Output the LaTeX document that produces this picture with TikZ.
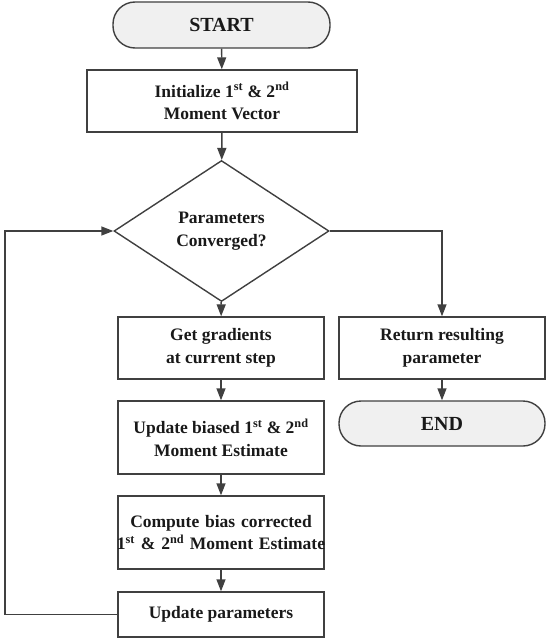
\documentclass[tikz,border=0pt]{standalone}
\usepackage{fontspec}
\setmainfont{Liberation Serif}
\usetikzlibrary{shapes.geometric,arrows.meta}
\tikzset{
  base/.style={draw=black!75, line width=1.4pt, align=center, inner sep=2pt,
    font=\fontsize{17.5}{22.5}\selectfont\bfseries, text=black!90},
  box/.style={base, rectangle, minimum width=#1, minimum height=62pt},
  pill/.style={base, rectangle, rounded corners=22pt, fill=black!6, minimum width=#1, minimum height=46pt, font=\fontsize{20}{24}\selectfont\bfseries},
  decision/.style={base, diamond, minimum width=215pt, minimum height=141pt, aspect=1.52, inner sep=0pt},
  conn/.style={draw=black!75, line width=1.4pt, -{Triangle[length=12pt,width=9pt]}},
}
\begin{document}
\begin{tikzpicture}[x=1pt,y=-1pt]
\useasboundingbox (0,0) rectangle (550,642);
\node[pill=217pt] (start) at (221.5,25) {START};
\node[box=270pt, minimum height=62pt] (init) at (222,101) {Initialize 1\textsuperscript{st} \& 2\textsuperscript{nd}\\Moment Vector};
\node[decision] (dec) at (221.5,231) {Parameters\\Converged?};
\node[box=206pt, minimum height=62pt] (grad) at (221,348) {Get gradients\\at current step};
\node[box=206pt, minimum height=62pt] (ret) at (442,348) {Return resulting\\parameter};
\node[pill=206pt, minimum height=45pt] (end) at (442,423.5) {END};
\node[box=206pt, minimum height=73pt] (upd) at (221,437.5) {Update biased 1\textsuperscript{st} \& 2\textsuperscript{nd}\\Moment Estimate};
\node[box=206pt, minimum height=73pt, text width=196pt] (comp) at (221,532.5) {Compute bias corrected\\\makebox[196pt]{1\textsuperscript{st} \& 2\textsuperscript{nd} Moment Estimate}};
\node[box=206pt, minimum height=45pt] (par) at (221,614.5) {Update parameters};
\coordinate (rc) at (442,231);
\coordinate (lb) at (5,614.5);
\coordinate (lt) at (5,231);
\draw[conn] (start) -- (init);
\draw[conn] (init) -- (dec);
\draw[conn] (dec) -- (grad);
\draw[conn] (dec.east) -- (rc) -- (ret.north);
\draw[conn] (ret) -- (end);
\draw[conn] (grad) -- (upd);
\draw[conn] (upd) -- (comp);
\draw[conn] (comp) -- (par);
\draw[conn] (par.west) -- (lb) -- (lt) -- (dec.west);
\end{tikzpicture}
\end{document}
